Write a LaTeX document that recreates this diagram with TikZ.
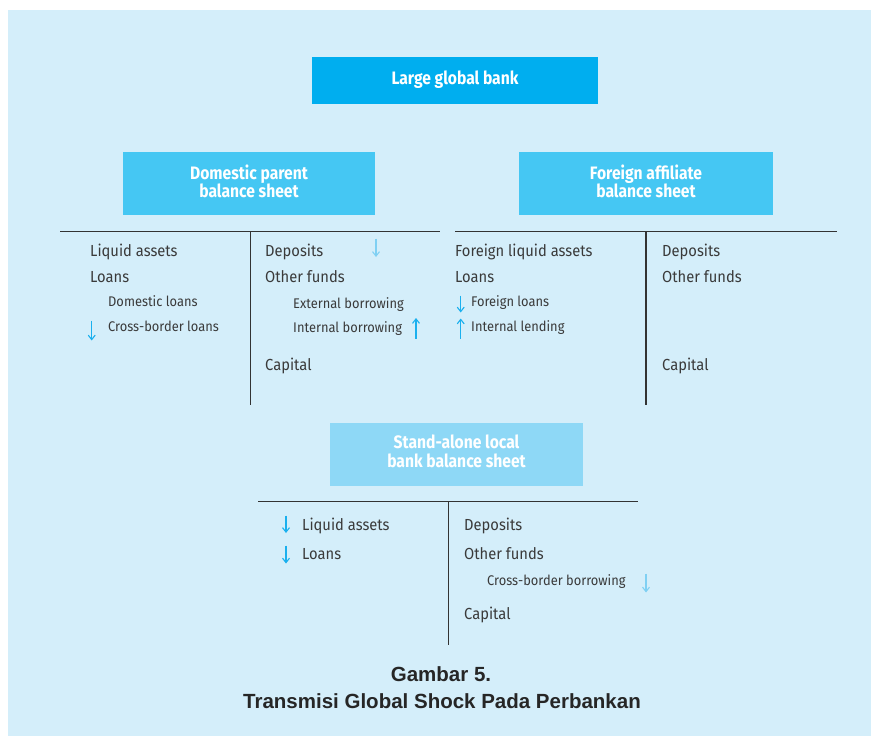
\documentclass[tikz,border=0pt]{standalone}
\usepackage{fontspec}
\setmainfont{Fira Sans}[FakeStretch=0.92]
\newfontfamily\boxfont{Fira Sans}[FakeStretch=0.87]
\newfontfamily\capfont{Liberation Sans}
\usetikzlibrary{arrows.meta}
\definecolor{bg}{HTML}{D4EEFA}
\definecolor{cA}{HTML}{00AEEF}
\definecolor{cB}{HTML}{45C7F3}
\definecolor{cC}{HTML}{8ED8F6}
\definecolor{txt}{HTML}{3A3A3A}
\definecolor{arr}{HTML}{1AB0EE}
\definecolor{arrl}{HTML}{7FD0F3}
\definecolor{rule}{HTML}{333333}
\tikzset{
  boxnode/.style={inner sep=0pt, text=white, align=center, font=\boxfont\bfseries\fontsize{18}{18.5}\selectfont},
  boxtext/.style={inner sep=0pt, text=white, align=center, font=\boxfont\bfseries\fontsize{18}{18.5}\selectfont},
  big/.style={anchor=base west, inner sep=0pt, text=txt, font=\fontsize{16}{18}\selectfont},
  small/.style={anchor=base west, inner sep=0pt, text=txt, font=\fontsize{14}{16}\selectfont},
  tline/.style={draw=rule, line width=1.2pt},
  arrow/.style={draw=arr, line width=1.1pt, -{Straight Barb[length=4.5pt,width=7pt]}},
  arrowl/.style={arrow, draw=arrl},
}
\begin{document}
\begin{tikzpicture}[x=1pt,y=-1pt]
\useasboundingbox (0,0) rectangle (871,736);
\fill[bg] (8,10) rectangle (871,736);

% boxes
\node[fill=cA, inner sep=0pt, minimum width=286, minimum height=47] (lgb) at (455,80.5) {};
\node[boxtext] (lgbt) at (455,79.5) {Large global bank};
\node[fill=cB, inner sep=0pt, minimum width=252, minimum height=63] (dom) at (249,183.5) {};
\node[boxtext] (domt) at (249,181.5) {Domestic parent\\balance sheet};
\node[fill=cB, inner sep=0pt, minimum width=254, minimum height=63] (for) at (646,183.5) {};
\node[boxtext] (fort) at (646,181.5) {Foreign affiliate\\balance sheet};
\node[fill=cC, inner sep=0pt, minimum width=253, minimum height=63] (loc) at (456.5,454) {};
\node[boxtext] (loct) at (456.5,451.5) {Stand-alone local\\bank balance sheet};

% T accounts
\coordinate (dL) at (60,231.5); \coordinate (dR) at (439.5,231.5);
\coordinate (dT) at (250.7,231.5); \coordinate (dB) at (250.7,405);
\draw[tline] (dL) -- (dR); \draw[tline] (dT) -- (dB);
\coordinate (fL) at (455,231.5); \coordinate (fR) at (836.5,231.5);
\coordinate (fT) at (646,231.5); \coordinate (fB) at (646,405);
\draw[tline] (fL) -- (fR); \draw[tline] (fT) -- (fB);
\coordinate (lL) at (258,501.7); \coordinate (lR) at (638.3,501.7);
\coordinate (lT) at (448.3,501.7); \coordinate (lB) at (448.3,645);
\draw[tline] (lL) -- (lR); \draw[tline] (lT) -- (lB);

% domestic parent
\node[big] (d1) at (90,256.7) {Liquid assets};
\node[big] (d2) at (90,282) {Loans};
\node[small] (d3) at (108,306.7) {Domestic loans};
\node[small] (d4) at (108,331) {Cross-border loans};
\node[big] (d5) at (265,256.7) {Deposits};
\node[big] (d6) at (265,282) {Other funds};
\node[small] (d7) at (293,308.7) {External borrowing};
\node[small] (d8) at (293,332) {Internal borrowing};
\node[big] (d9) at (265,370.7) {Capital};
\coordinate (a1s) at (91.7,320.5); \coordinate (a1e) at (91.7,340.5);
\draw[arrow] (a1s) -- (a1e);
\coordinate (a2s) at (376,238.5); \coordinate (a2e) at (376,257);
\draw[arrowl] (a2s) -- (a2e);
\coordinate (a3s) at (416,338.5); \coordinate (a3e) at (416,318);
\draw[arrow] (a3s) -- (a3e);

% foreign affiliate
\node[big] (f1) at (455,256.7) {Foreign liquid assets};
\node[big] (f2) at (455,282) {Loans};
\node[small] (f3) at (471,306.7) {Foreign loans};
\node[small] (f4) at (471,331.7) {Internal lending};
\node[big] (f5) at (662,256.7) {Deposits};
\node[big] (f6) at (662,282) {Other funds};
\node[big] (f7) at (662,370.7) {Capital};
\coordinate (a4s) at (460.7,295.5); \coordinate (a4e) at (460.7,312.5);
\draw[arrow] (a4s) -- (a4e);
\coordinate (a5s) at (460.7,338.5); \coordinate (a5e) at (460.7,318.5);
\draw[arrow] (a5s) -- (a5e);

% stand-alone local bank
\node[big] (l1) at (302,530) {Liquid assets};
\node[big] (l2) at (302,559.3) {Loans};
\node[big] (l3) at (464,530) {Deposits};
\node[big] (l4) at (464,559.3) {Other funds};
\node[small] (l5) at (487,585.7) {Cross-border borrowing};
\node[big] (l6) at (464,619) {Capital};
\coordinate (a6s) at (286,515.5); \coordinate (a6e) at (286,533);
\draw[arrow] (a6s) -- (a6e);
\coordinate (a7s) at (286,545.5); \coordinate (a7e) at (286,563.5);
\draw[arrow] (a7s) -- (a7e);
\coordinate (a8s) at (646,573.5); \coordinate (a8e) at (646,592.5);
\draw[arrowl] (a8s) -- (a8e);

% caption
\node[inner sep=0pt, anchor=base, text=black!85, font=\capfont\bfseries\fontsize{20.5}{27}\selectfont] (cap1) at (441,681) {Gambar 5.};
\node[inner sep=0pt, anchor=base, text=black!85, font=\capfont\bfseries\fontsize{20.5}{27}\selectfont] (cap2) at (442,708) {Transmisi Global Shock Pada Perbankan};
\end{tikzpicture}
\end{document}
